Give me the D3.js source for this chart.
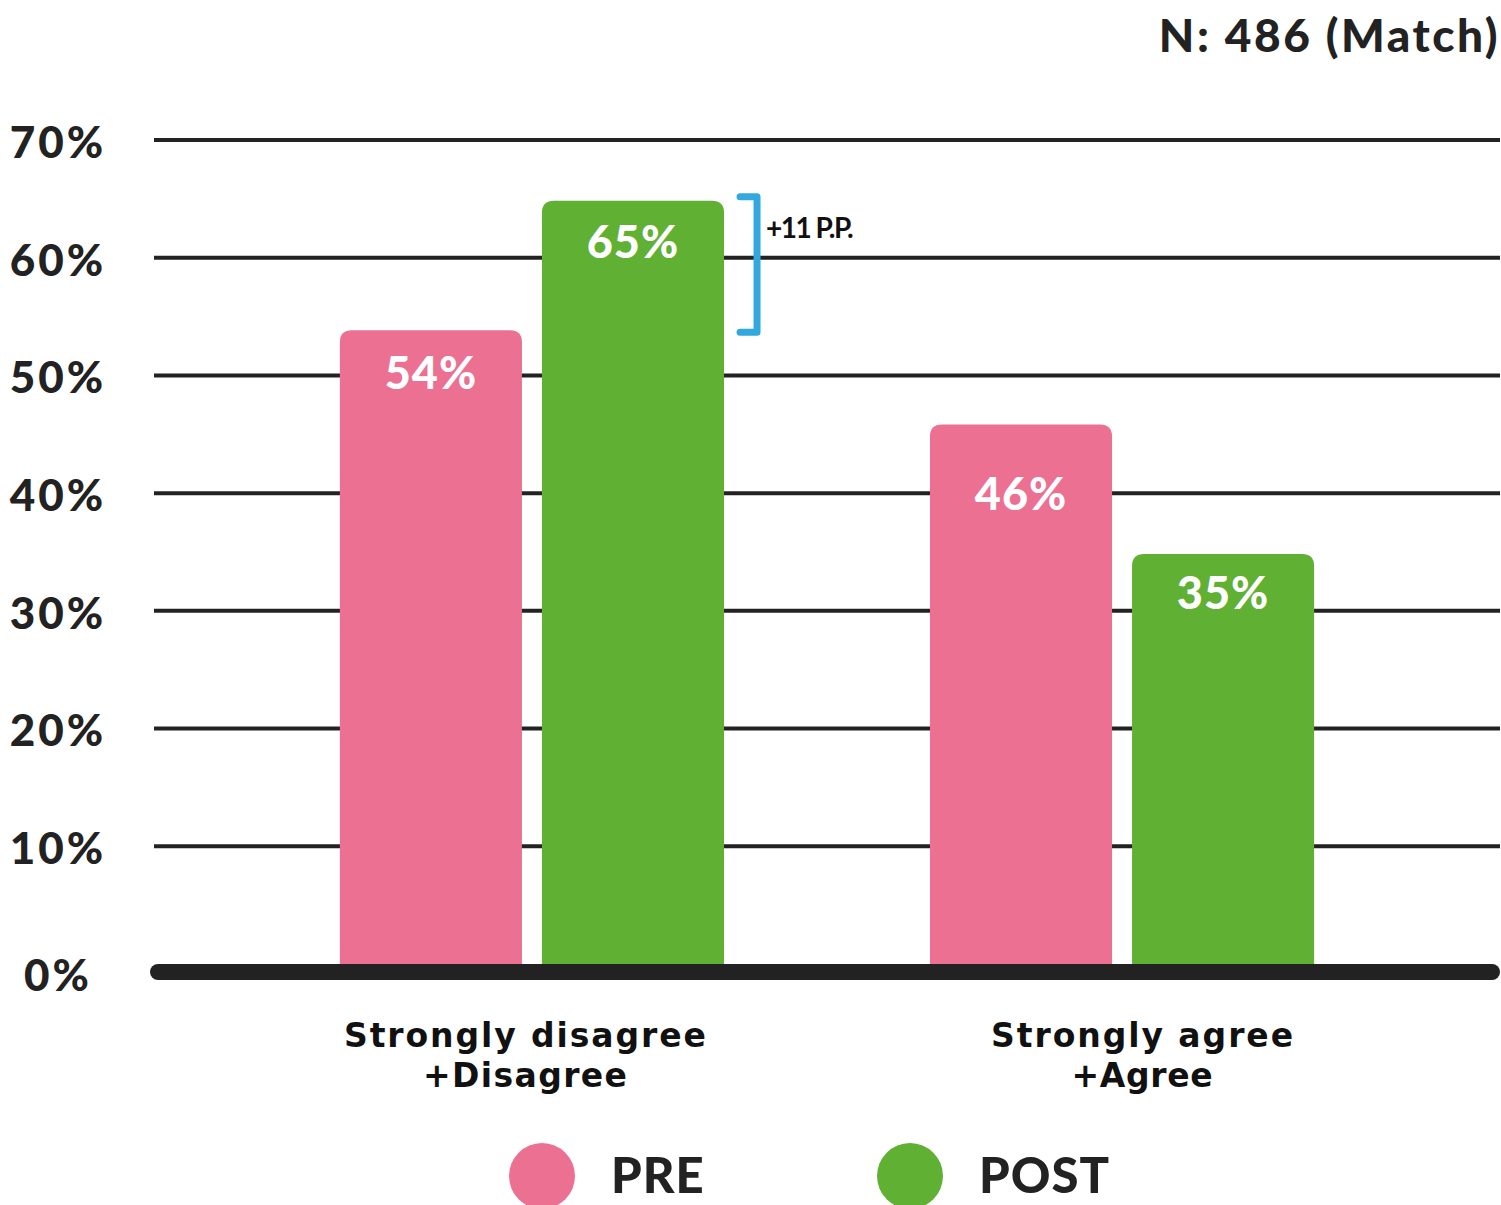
<!DOCTYPE html>
<html>
<head>
<meta charset="utf-8">
<script src="https://cdn.jsdelivr.net/npm/d3@7"></script>
<style>
  html, body { margin: 0; padding: 0; background: #ffffff; }
  svg { display: block; }
  text { font-family: "Lato", "Noto Sans", sans-serif; }
  text.cat { font-family: "DejaVu Sans", sans-serif; }
</style>
</head>
<body>
<svg id="chart" width="1501" height="1205"></svg>
<script>
// Survey responses, matched sample, before and after
const categories = ["Strongly disagree\n+Disagree", "Strongly agree\n+Agree"];
const seriesNames = ["PRE", "POST"];
const preValues = [54, 46];
const postValues = [65, 35];
const yTicks = [0, 10, 20, 30, 40, 50, 60, 70];
const sampleNote = "N: 486 (Match)";
const changeNote = "+11 P.P.";

const colors = { PRE: "#ec7091", POST: "#60b033" };
const ink = "#222222";

const svg = d3.select("#chart");

const y = d3.scaleLinear().domain([0, 70]).range([964, 140]);

const x0 = d3.scaleBand()
  .domain(categories)
  .range([154, 1500])
  .paddingInner(0.349)
  .paddingOuter(0.315);

const x1 = d3.scaleBand()
  .domain(seriesNames)
  .range([0, x0.bandwidth()])
  .paddingInner(0.099);

const rows = categories.map((c, i) => ({
  category: c,
  values: [
    { series: "PRE", value: preValues[i], idx: i },
    { series: "POST", value: postValues[i], idx: i }
  ]
}));

// Horizontal gridlines
svg.append("g")
  .selectAll("line")
  .data(yTicks.filter(t => t > 0))
  .join("line")
  .attr("x1", 154)
  .attr("x2", 1500)
  .attr("y1", d => y(d))
  .attr("y2", d => y(d))
  .attr("stroke", ink)
  .attr("stroke-width", 4);

// Y tick labels
svg.append("g")
  .selectAll("text")
  .data(yTicks)
  .join("text")
  .attr("x", 58)
  .attr("y", d => (d === 0 ? 975 : y(d) + 2))
  .attr("dy", "0.36em")
  .attr("text-anchor", "middle")
  .attr("font-size", 44)
  .attr("font-weight", 900)
  .attr("letter-spacing", 3)
  .attr("fill", ink)
  .text(d => d + "%");

// Bars with rounded top corners
function topRounded(x, yTop, w, yBottom, r) {
  return `M${x},${yBottom}V${yTop + r}Q${x},${yTop} ${x + r},${yTop}` +
    `H${x + w - r}Q${x + w},${yTop} ${x + w},${yTop + r}V${yBottom}Z`;
}

// distance from bar top to the value label baseline
const labelDrop = { PRE: [61, 87], POST: [59, 57] };

const groups = svg.append("g")
  .selectAll("g")
  .data(rows)
  .join("g")
  .attr("transform", d => `translate(${x0(d.category)},0)`);

groups.selectAll("path")
  .data(d => d.values)
  .join("path")
  .attr("d", d => topRounded(x1(d.series), y(d.value) + 2, x1.bandwidth(), y(0) + 2, 12))
  .attr("fill", d => colors[d.series]);

groups.selectAll("text.value")
  .data(d => d.values)
  .join("text")
  .attr("class", "value")
  .attr("x", d => x1(d.series) + x1.bandwidth() / 2)
  .attr("y", d => y(d.value) + labelDrop[d.series][d.idx])
  .attr("text-anchor", "middle")
  .attr("font-size", 45)
  .attr("font-weight", 900)
  .attr("letter-spacing", 1)
  .attr("fill", "#ffffff")
  .text(d => d.value + "%");

// Baseline
svg.append("line")
  .attr("x1", 158)
  .attr("x2", 1492)
  .attr("y1", y(0) + 8)
  .attr("y2", y(0) + 8)
  .attr("stroke", ink)
  .attr("stroke-width", 16)
  .attr("stroke-linecap", "round");

// Category labels, two lines each
const labelShift = [-7, 20];
const lineWidths = [[362, 204], [302, 141]];
const catLines = categories.flatMap((c, i) =>
  c.split("\n").map((t, j) => ({ text: t, cat: c, i, j })));

svg.append("g")
  .selectAll("text")
  .data(catLines)
  .join("text")
  .attr("class", "cat")
  .attr("x", d => x0(d.cat) + x0.bandwidth() / 2 + labelShift[d.i])
  .attr("y", d => 1047 + d.j * 40)
  .attr("text-anchor", "middle")
  .attr("font-size", 33)
  .attr("font-weight", 700)
  .attr("textLength", d => lineWidths[d.i][d.j])
  .attr("lengthAdjust", "spacing")
  .attr("fill", "#111")
  .text(d => d.text);

// Change bracket between PRE and POST of the first category
const bx = x0(categories[0]) + x0.bandwidth() + 33;
const yTopB = y(postValues[0]) - 2;
const yBotB = y(preValues[0]) + 4;
svg.append("path")
  .attr("d", `M${bx - 17},${yTopB}H${bx}V${yBotB}H${bx - 17}`)
  .attr("fill", "none")
  .attr("stroke", "#33a8de")
  .attr("stroke-width", 7)
  .attr("stroke-linecap", "round")
  .attr("stroke-linejoin", "round");

svg.append("text")
  .attr("x", bx + 9)
  .attr("y", 238)
  .attr("font-size", 28)
  .attr("font-weight", 700)
  .attr("letter-spacing", -1.5)
  .attr("fill", "#111")
  .text(changeNote);

// Sample size note
svg.append("text")
  .attr("x", 1500)
  .attr("y", 52)
  .attr("text-anchor", "end")
  .attr("font-size", 46)
  .attr("font-weight", 900)
  .attr("letter-spacing", 2.5)
  .attr("fill", ink)
  .text(sampleNote);

// Legend
const legendX = [542, 910];
const legend = svg.append("g")
  .selectAll("g")
  .data(seriesNames)
  .join("g")
  .attr("transform", (d, i) => `translate(${legendX[i]},1176)`);

legend.append("circle")
  .attr("r", 33)
  .attr("fill", d => colors[d]);

legend.append("text")
  .attr("x", 69)
  .attr("y", 17)
  .attr("font-size", 49)
  .attr("font-weight", 900)
  .attr("letter-spacing", 1)
  .attr("fill", ink)
  .text(d => d);
</script>
</body>
</html>
